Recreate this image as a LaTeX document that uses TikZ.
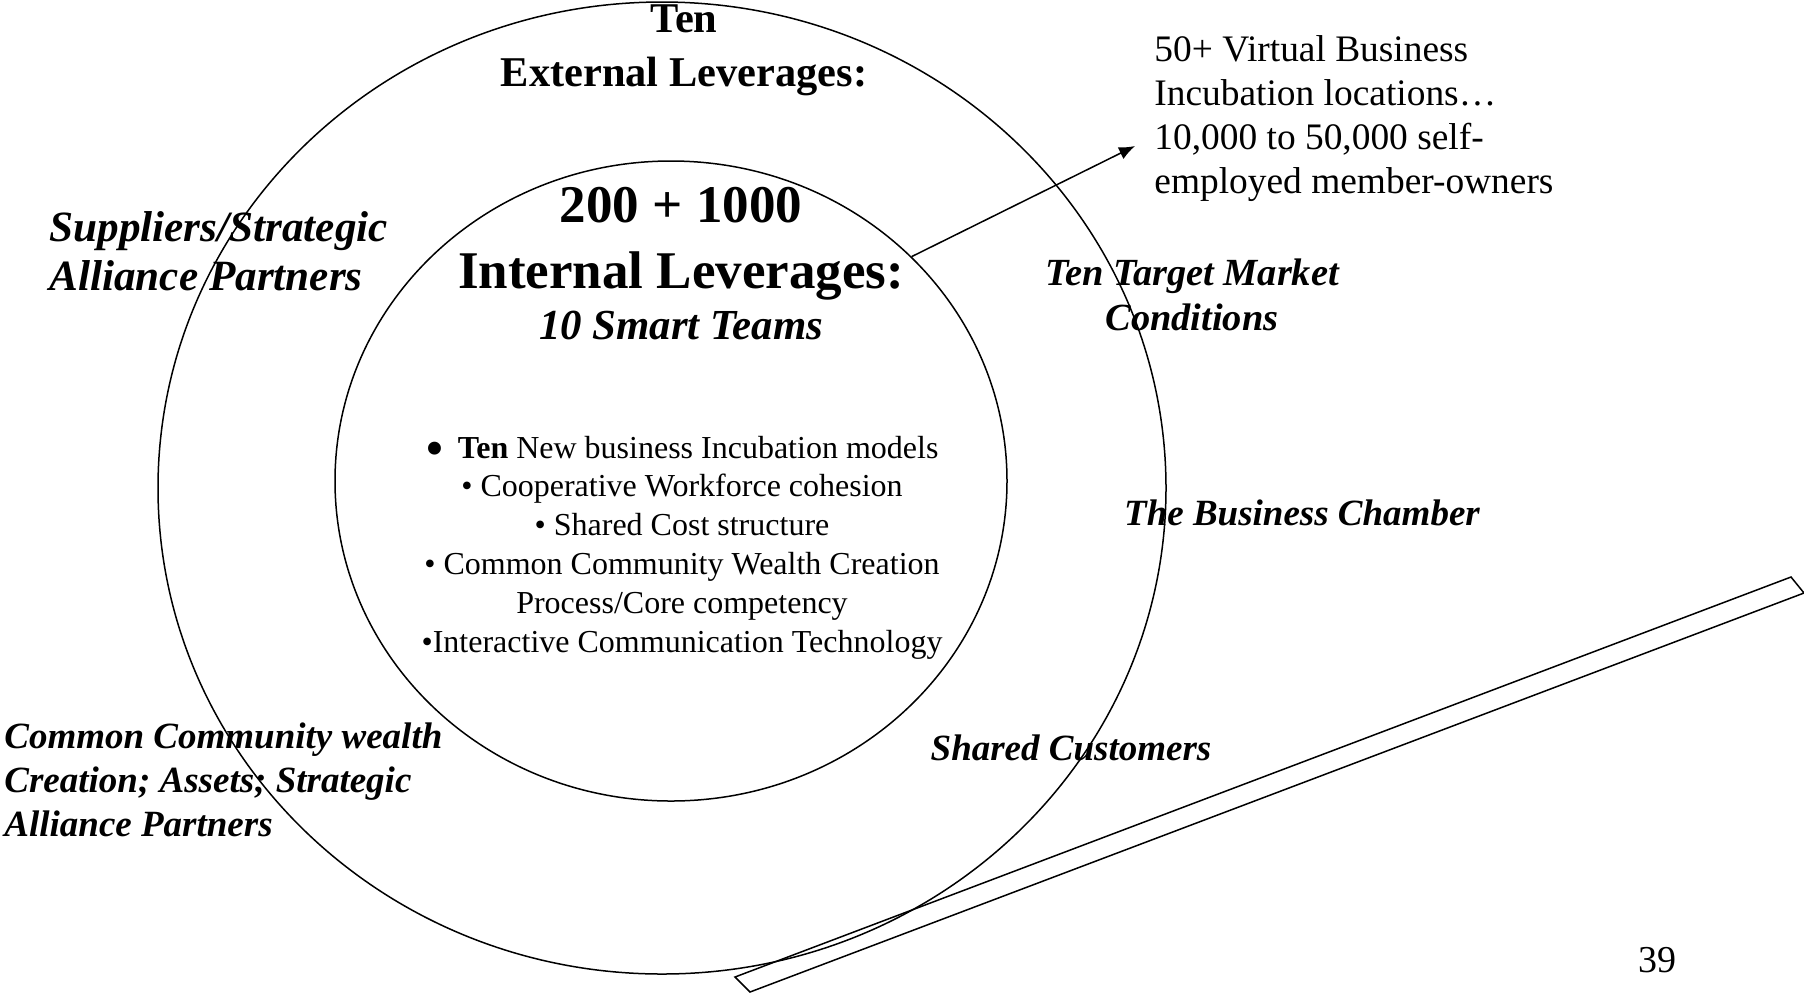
\documentclass[tikz,border=0pt]{standalone}
\usepackage{fontspec}
\setmainfont{Liberation Serif}
\usetikzlibrary{positioning, shapes.geometric, arrows.meta}

\begin{document}
\begin{tikzpicture}[x=.5pt, y=-.5pt, every node/.style={inner sep=0pt},
    ring/.style={draw, ellipse, line width=.75pt, inner sep=0pt},
    lever/.style={font=\fontsize{21.2}{27}\selectfont\bfseries, align=center},
    market/.style={font=\fontsize{18.5}{22}\selectfont\bfseries\itshape},
    plain/.style={font=\fontsize{18.7}{21.85}\selectfont}]
    \useasboundingbox (0,0) rectangle (1804,993);

    \node[ring, minimum width=504pt, minimum height=486pt] (outer) at (662,488) {};
    \node[ring, minimum width=336pt, minimum height=320pt] (inner) at (671,481) {};

    \node[lever, anchor=base] (ext) at (684,86) {Ten\\External Leverages:};
    \node[lever, font=\fontsize{26.5}{33}\selectfont\bfseries, anchor=base] (int) at (681,288)
        {200 + 1000\\Internal Leverages:};
    \node[lever, font=\fontsize{21.4}{27}\selectfont\bfseries\itshape, anchor=base] (smart) at (681,339)
        {10 Smart Teams};

    \node[align=center, font=\fontsize{16}{19.4}\selectfont, anchor=base] (teams) at (682,652)
        {{\fontsize{27}{27}\selectfont\raisebox{-4pt}{•}\ }\textbf{Ten} New business Incubation models\\
         • Cooperative Workforce cohesion\\
         • Shared Cost structure\\
         • Common Community Wealth Creation\\
         Process/Core competency\\
         •Interactive Communication Technology};

    \node[plain, align=left, anchor=base west] (incub) at (1154,193)
        {50+ Virtual Business\\Incubation locations…\\10,000 to 50,000 self-\\employed member-owners};
    \coordinate (tip) at (1135,146);
    \draw[line width=.75pt, -{Latex[length=8pt, width=6.5pt]}] (inner.43) -- (tip);

    \node[market, font=\fontsize{21.6}{24.5}\selectfont\bfseries\itshape, align=left, anchor=base west] (supp) at (49,290)
        {Suppliers/Strategic\\Alliance Partners};
    \node[market, font=\fontsize{19.2}{22.5}\selectfont\bfseries\itshape, align=center, anchor=base] (target) at (1192,330)
        {Ten Target Market\\Conditions};
    \node[market, anchor=base] (chamber) at (1302,525) {The Business Chamber};
    \node[market, anchor=base] (cust) at (1071,760) {Shared Customers};
    \node[market, align=left, anchor=base west] (comm) at (4,836)
        {Common Community wealth\\Creation; Assets; Strategic\\Alliance Partners};

    \draw[line width=.75pt] (735,977) -- (1791,577) -- (1804,593) -- (750,992) -- cycle;

    \node[font=\fontsize{19}{22}\selectfont, anchor=base] (page) at (1657,972) {39};
\end{tikzpicture}
\end{document}
